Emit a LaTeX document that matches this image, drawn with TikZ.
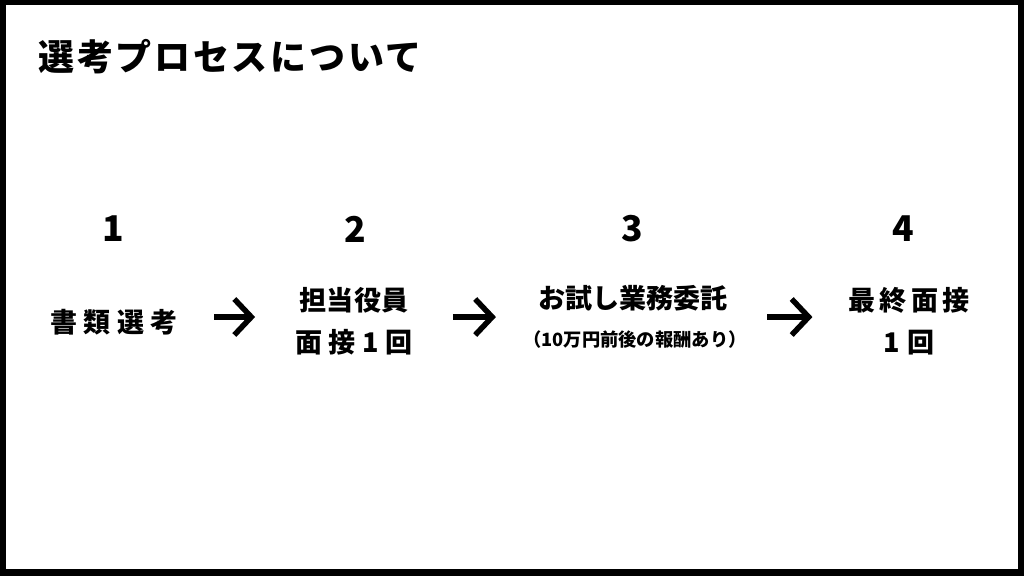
\documentclass[tikz,border=0pt]{standalone}
\usepackage{fontspec}
\setmainfont{Noto Sans CJK JP}
\usetikzlibrary{arrows.meta}
\tikzset{
  num/.style={font=\fontsize{20.2}{24}\selectfont\bfseries, inner sep=0pt},
  stepname/.style={font=\fontsize{15.4}{23.9}\selectfont\bfseries, align=center, inner sep=0pt},
  note/.style={font=\fontsize{10.4}{12}\selectfont\bfseries, inner sep=0pt},
  flow/.style={-{Straight Barb[length=0.34cm,width=0.72cm]}, line width=0.11cm},
}
\newcommand\spaced[2]{{\addfontfeatures{LetterSpace=#1}#2}}
\begin{document}
\begin{tikzpicture}[x=0.02cm,y=-0.02cm]
  \fill [black] (0,0) rectangle (1024,576);
  \fill [white] (6,5) rectangle (1018,569);
  \node [anchor=west, inner sep=0pt, font=\fontsize{20.5}{24}\selectfont\bfseries] (title) at (38,57) {\spaced{7.5}{選考プロセスについて}};
  \foreach \n/\x in {1/113, 2/355, 3/632, 4/903}
  {
    \node [num] (n\n) at (\x,229) {\n};
  }
  \node [stepname] (s1) at (114,322) {\spaced{24}{書類選考}};
  \node [stepname] (s2) at (354,321) {担当役員\\\spaced{24}{面接1回}};
  \node [stepname] (s3) at (633,298) {お試し業務委託};
  \node [note] (s3note) at (635,340) {（10万円前後の報酬あり）};
  \node [stepname] (s4) at (909,321) {\spaced{15}{最終面接}\\\spaced{27}{1回}};
  \draw [flow, shorten <=0.72cm, shorten >=0.8cm] ([yshift=0.1cm]s1.east) -- ([yshift=0.1cm]s1.east -| s2.west);
  \draw [flow, shorten <=0.8cm, shorten >=0.84cm] ([yshift=0.08cm]s2.east) -- ([yshift=0.08cm]s2.east -| s3.west);
  \draw [flow, shorten <=0.78cm, shorten >=0.72cm] ([yshift=-0.38cm]s3.east) -- ([yshift=-0.38cm]s3.east -| s4.west);
\end{tikzpicture}
\end{document}
